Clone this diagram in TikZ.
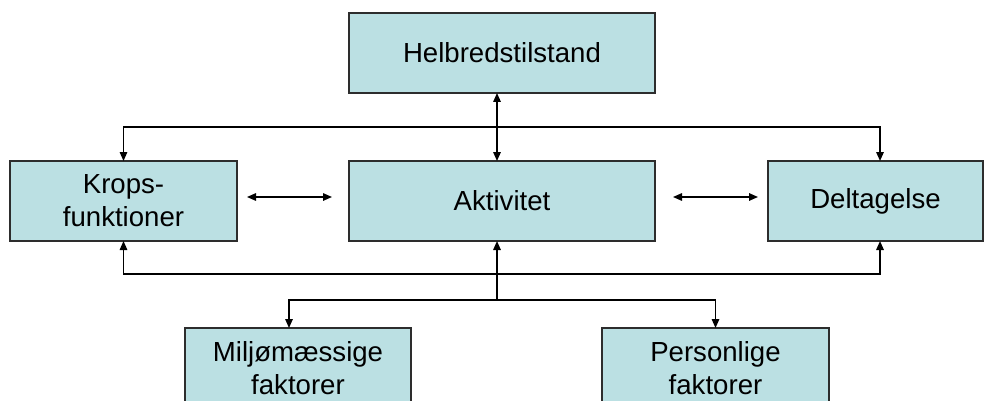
\documentclass[tikz,border=0pt]{standalone}
\usepackage{fontspec}
\setmainfont{Liberation Sans}
\usepackage{tikz}
\usetikzlibrary{arrows.meta}

\definecolor{boxfill}{RGB}{187,224,227}
\definecolor{boxline}{RGB}{45,45,45}

\begin{document}
\begin{tikzpicture}[x=1pt,y=-1pt,
        box/.style={draw=boxline, fill=boxfill, line width=1.4pt, minimum height=80pt,
            inner sep=0pt, outer sep=0pt, align=center,
            font=\fontsize{27.6}{33}\selectfont},
        link/.style={line width=1.5pt},
        >={Triangle[length=9pt,width=7.5pt]}]
        \useasboundingbox (0,0) rectangle (984,401);
        \node[box, minimum width=306pt] (helbred) at (502,53) {Helbredstilstand};
        \node[box, minimum width=227pt] (krops) at (123.5,201) {Krops-\\funktioner};
        \node[box, minimum width=306pt] (aktiv) at (502,201) {Aktivitet};
        \node[box, minimum width=215pt] (deltag) at (875.5,201) {Deltagelse};
        \node[box, minimum width=226pt] (miljo) at (298,368) {Miljømæssige\\faktorer};
        \node[box, minimum width=227pt] (person) at (715.5,368) {Personlige\\faktorer};
        \coordinate (top) at (497,127);
        \coordinate (low) at (497,274);
        \coordinate (split) at (497,300);
        \draw[link, <->] (helbred.south -| top) -- (aktiv.north -| top);
        \draw[link, ->] (top) -| (krops.north);
        \draw[link, ->] (top) -| ([xshift=4.5pt]deltag.north);
        \draw[link, <->] (krops.south) |- (low) -| ([xshift=4.5pt]deltag.south);
        \draw[link, <-] (aktiv.south -| split) -- (split);
        \draw[link, ->] (split) -| ([xshift=-9pt]miljo.north);
        \draw[link, ->] (split) -| (person.north);
        \draw[link, <->] ([xshift=10pt,yshift=4pt]krops.east) -- ([xshift=-17pt,yshift=4pt]aktiv.west);
        \draw[link, <->] ([xshift=18pt,yshift=4pt]aktiv.east) -- ([xshift=-10pt,yshift=4pt]deltag.west);
\end{tikzpicture}
\end{document}
